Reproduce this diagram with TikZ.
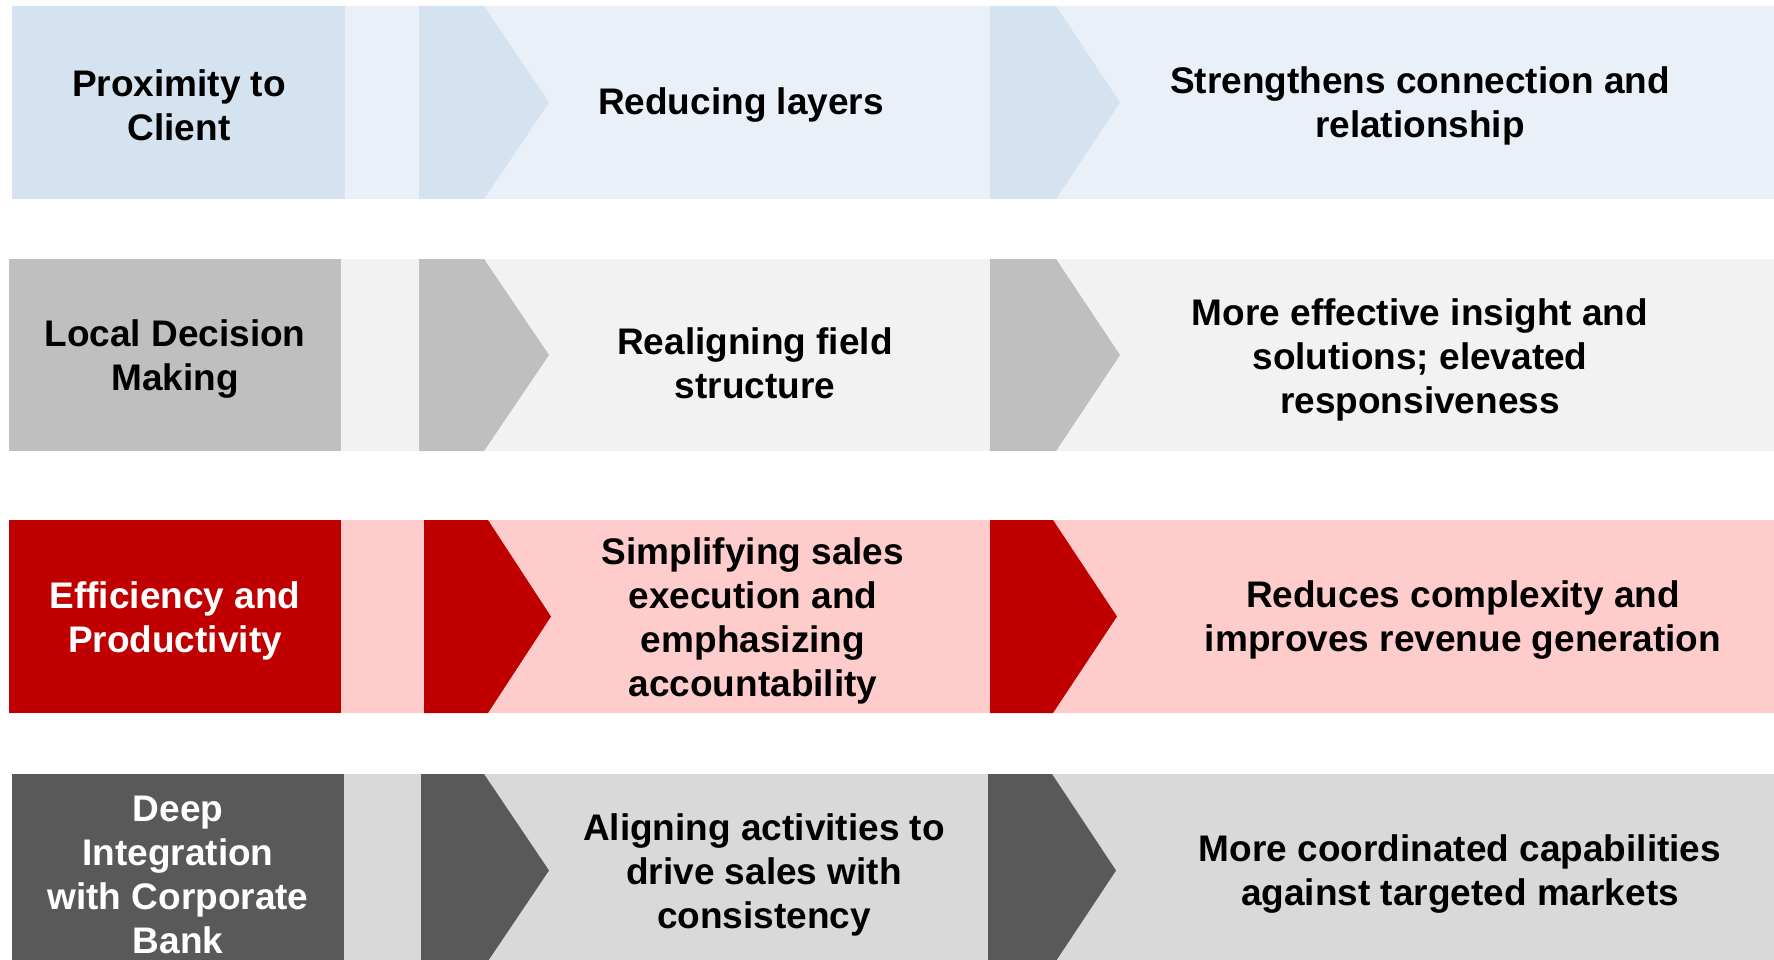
\documentclass[tikz,border=0pt]{standalone}
\usepackage{fontspec}
\setmainfont{Liberation Sans}
\usetikzlibrary{positioning}

% chevron: colour, left x, corner x, tip x, top y, bottom y
\newcommand{\drawchev}[6]{%
  \fill[#1] (#2,#5) -- (#3,#5) -- (#4,{(#5+#6)/2}) -- (#3,#6) -- (#2,#6) -- cycle;}

\begin{document}
\begin{tikzpicture}[x=1pt, y=-1pt,
  txt/.style={font=\fontsize{37}{44}\selectfont\bfseries, align=center, inner sep=0pt, text=black, yshift=-3.5pt},
  txtw/.style={txt, text=white}]

  % Define colors for the four rows
  \definecolor{bluebox}{RGB}{213,227,241}
  \definecolor{blueband}{RGB}{234,240,248}
  \definecolor{greybox}{RGB}{191,191,191}
  \definecolor{greyband}{RGB}{242,242,242}
  \definecolor{redbox}{RGB}{192,0,0}
  \definecolor{redband}{RGB}{255,204,204}
  \definecolor{darkbox}{RGB}{89,89,89}
  \definecolor{darkband}{RGB}{217,217,217}

  \useasboundingbox (0,0) rectangle (1774,960);

  % Row 1: proximity to client
  \fill[blueband] (345,6) rectangle (1774,199);
  \fill[bluebox] (12,6) rectangle (345,199);
  \drawchev{bluebox}{419}{484}{549}{6}{199}
  \drawchev{bluebox}{990}{1056}{1120}{6}{199}
  \node[txt] (prox) at (179,102) {Proximity to\\Client};
  \node[txt] (layers) at (741,102) {Reducing layers};
  \node[txt] (strength) at (1420,102) {Strengthens connection and\\relationship};

  % Row 2: local decision making
  \fill[greyband] (341,259) rectangle (1774,451);
  \fill[greybox] (9,259) rectangle (341,451);
  \drawchev{greybox}{419}{484}{549}{259}{451}
  \drawchev{greybox}{990}{1056}{1120}{259}{451}
  \node[txt] (local) at (175,356) {Local Decision\\Making};
  \node[txt] (realign) at (755,360) {Realigning field\\structure};
  \node[txt] (insight) at (1420,356) {More effective insight and\\solutions; elevated\\responsiveness};

  % Row 3: efficiency and productivity
  \fill[redband] (341,520) rectangle (1774,713);
  \fill[redbox] (9,520) rectangle (341,713);
  \drawchev{redbox}{424}{488}{551}{520}{713}
  \drawchev{redbox}{990}{1053}{1117}{520}{713}
  \node[txtw] (effic) at (175,617) {Efficiency and\\Productivity};
  \node[txt] (simplify) at (753,617) {Simplifying sales\\execution and\\emphasizing\\accountability};
  \node[txt] (reduces) at (1463,617) {Reduces complexity and\\improves revenue generation};

  % Row 4: integration with corporate bank
  \fill[darkband] (344,774) rectangle (1774,967);
  \fill[darkbox] (12,774) rectangle (344,967);
  \drawchev{darkbox}{421}{484}{549}{774}{967}
  \drawchev{darkbox}{988}{1052}{1116}{774}{967}
  \node[txtw] (deep) at (178,871) {Deep\\Integration\\with Corporate\\Bank};
  \node[txt] (align) at (764,871) {Aligning activities to\\drive sales with\\consistency};
  \node[txt] (coord) at (1460,871) {More coordinated capabilities\\against targeted markets};

\end{tikzpicture}
\end{document}
